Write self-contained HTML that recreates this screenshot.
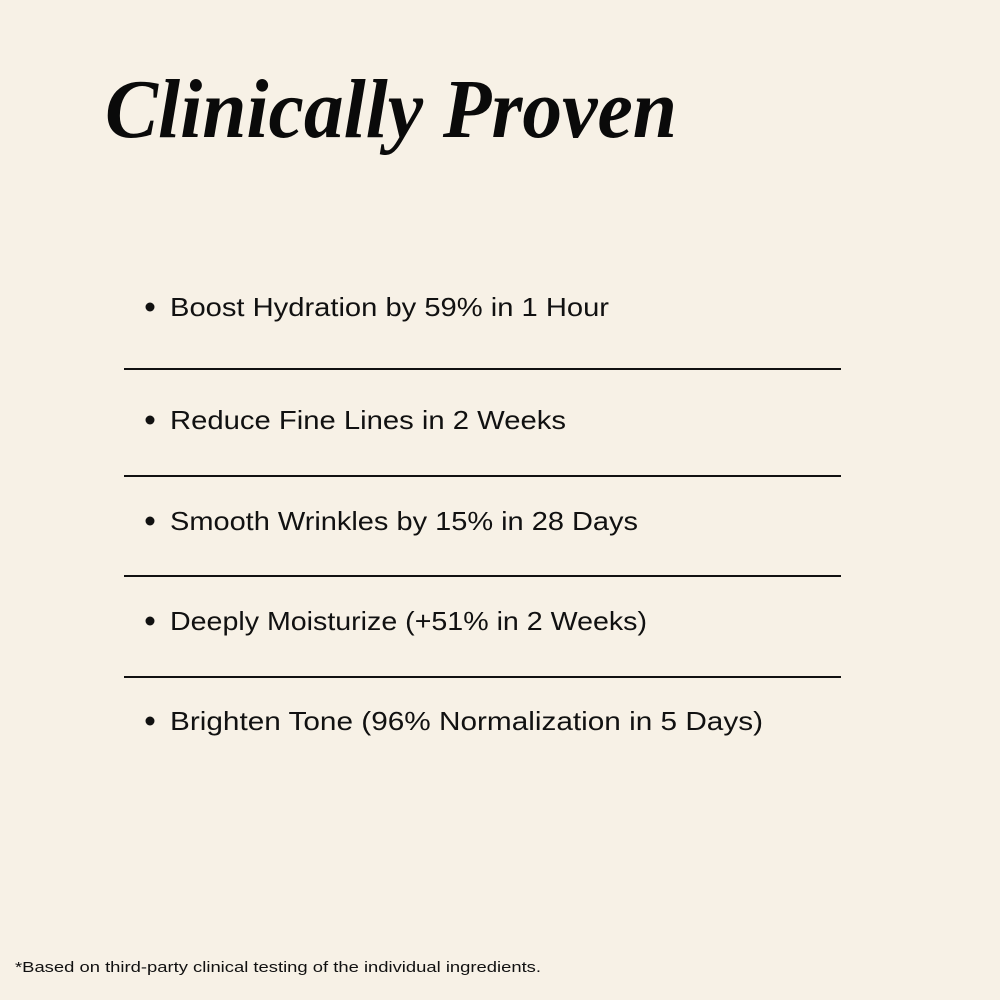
<!DOCTYPE html>
<html><head><style>
html,body{margin:0;padding:0;background:#f7f1e6;}
svg{display:block}
</style></head><body>
<svg width="1000" height="1000" xmlns="http://www.w3.org/2000/svg">
<rect width="1000" height="1000" fill="#f7f1e6"/>
<text x="105" y="137" font-family="Liberation Serif, serif" font-weight="bold" font-style="italic" font-size="84" textLength="572" lengthAdjust="spacingAndGlyphs" fill="#0a0a0a">Clinically Proven</text>
<g font-family="Liberation Sans, sans-serif" font-size="26" fill="#111">
<circle cx="150" cy="307" r="4.5"/>
<text x="170" y="316" textLength="439" lengthAdjust="spacingAndGlyphs">Boost Hydration by 59% in 1 Hour</text>
<circle cx="150" cy="420" r="4.5"/>
<text x="170" y="429" textLength="396" lengthAdjust="spacingAndGlyphs">Reduce Fine Lines in 2 Weeks</text>
<circle cx="150" cy="521" r="4.5"/>
<text x="170" y="530" textLength="468" lengthAdjust="spacingAndGlyphs">Smooth Wrinkles by 15% in 28 Days</text>
<circle cx="150" cy="621" r="4.5"/>
<text x="170" y="630" textLength="477" lengthAdjust="spacingAndGlyphs">Deeply Moisturize (+51% in 2 Weeks)</text>
<circle cx="150" cy="721" r="4.5"/>
<text x="170" y="730" textLength="593" lengthAdjust="spacingAndGlyphs">Brighten Tone (96% Normalization in 5 Days)</text>
</g>
<g fill="#111">
<rect x="124" y="368" width="717" height="2"/>
<rect x="124" y="475" width="717" height="2"/>
<rect x="124" y="575" width="717" height="2"/>
<rect x="124" y="676" width="717" height="2"/>
</g>
<text x="15" y="972" font-family="Liberation Sans, sans-serif" font-size="15" textLength="526" lengthAdjust="spacingAndGlyphs" fill="#111">*Based on third-party clinical testing of the individual ingredients.</text>
</svg>
</body></html>
